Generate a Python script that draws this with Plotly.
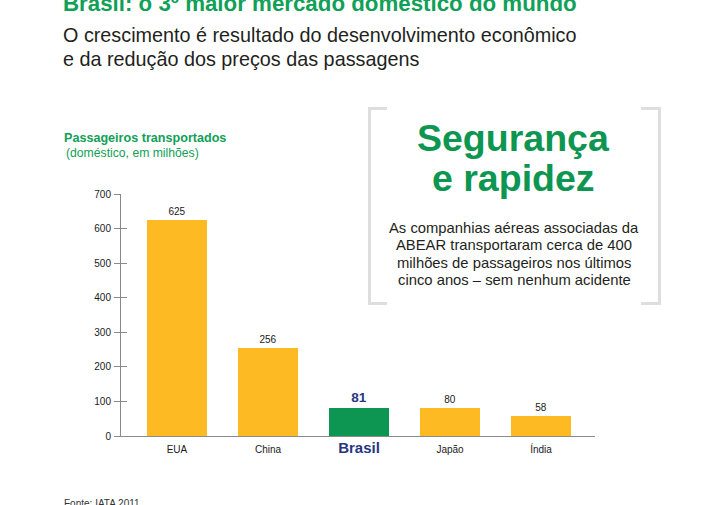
import plotly.graph_objects as go

categories = ["EUA", "China", "Brasil", "Japão", "Índia"]
values = [625, 256, 81, 80, 58]
highlight = "Brasil"
y_ticks = [0, 100, 200, 300, 400, 500, 600, 700]

YELLOW = "#FDBA22"
GREEN = "#0D9651"
NAVY = "#283581"
TITLE_GREEN = "#10A057"
FONT = "Liberation Sans, Arial, Helvetica, sans-serif"

W, H = 722, 505
L, R, T, B = 121, 595, 194, 436  # plot area in pixels


def px_x(px):
    return (px - L) / (R - L)


def px_y(py):
    return (B - py) / (B - T)


xpos = list(range(len(categories)))
colors = [GREEN if c == highlight else YELLOW for c in categories]
texts = [f"<b>{v}</b>" if c == highlight else str(v) for c, v in zip(categories, values)]
text_sizes = [13.5 if c == highlight else 10 for c in categories]
text_colors = [NAVY if c == highlight else "#1a1a1a" for c in categories]
ticktext = [
    f"<b><span style='color:{NAVY};font-size:15px'>{c}</span></b>" if c == highlight else c
    for c in categories
]

fig = go.Figure()
fig.add_trace(go.Bar(
    x=xpos, y=values, width=0.66,
    marker=dict(color=colors, line=dict(width=0)),
    text=texts, textposition="outside",
    outsidetextfont=dict(size=text_sizes, color=text_colors, family=FONT),
    cliponaxis=False, hoverinfo="skip",
))
# invisible trace to carry the inside half of crossing ticks
fig.add_trace(go.Scatter(x=[0], y=[0], yaxis="y2", mode="markers",
                         marker=dict(opacity=0), hoverinfo="skip", showlegend=False))

fig.update_layout(
    width=W, height=H,
    margin=dict(l=L, r=W - R, t=T, b=H - B),
    paper_bgcolor="white", plot_bgcolor="white",
    showlegend=False,
    font=dict(family=FONT, size=10, color="#1a1a1a"),
    bargap=0,
    xaxis=dict(
        range=[-0.615, 4.593], tickvals=xpos, ticktext=ticktext,
        showgrid=False, zeroline=False, showline=True, linecolor="#8a8a8a", linewidth=1,
        ticks="", tickfont=dict(size=10, color="#1a1a1a"), ticklabelstandoff=4,
        fixedrange=True,
    ),
    yaxis=dict(
        range=[0, 700], tickvals=y_ticks, showgrid=False, zeroline=False,
        showline=True, linecolor="#8a8a8a", linewidth=1,
        ticks="outside", ticklen=6, tickcolor="#8a8a8a", tickwidth=1,
        tickfont=dict(size=10, color="#1a1a1a"), ticklabelstandoff=1, fixedrange=True,
    ),
    yaxis2=dict(
        range=[0, 700], tickvals=y_ticks, overlaying="y", side="left",
        showgrid=False, zeroline=False, showline=False,
        ticks="inside", ticklen=6, tickcolor="#8a8a8a", tickwidth=1,
        showticklabels=False, fixedrange=True,
    ),
)

ann = []
def add_text(text, px, py, size, color, xanchor="left", bold=False):
    ann.append(dict(
        text=f"<b>{text}</b>" if bold else text,
        x=px_x(px), y=px_y(py), xref="paper", yref="paper",
        xanchor=xanchor, yanchor="middle", showarrow=False,
        font=dict(size=size, color=color, family=FONT), align=xanchor if xanchor != "center" else "center",
    ))

add_text("Brasil: o 3º maior mercado doméstico do mundo", 61, 3, 22.3, TITLE_GREEN, bold=True)
add_text("O crescimento é resultado do desenvolvimento econômico", 61, 35, 19.8, "#231f20")
add_text("e da redução dos preços das passagens", 61, 59, 19.8, "#231f20")
add_text("Passageiros transportados", 62, 138, 12.6, TITLE_GREEN, bold=True)
add_text("(doméstico, em milhões)", 64, 153, 12.2, TITLE_GREEN)
add_text("Segurança", 513, 138, 37.5, GREEN, xanchor="center", bold=True)
add_text("e rapidez", 513, 178, 37.5, GREEN, xanchor="center", bold=True)
para = ["As companhias aéreas associadas da",
        "ABEAR transportaram cerca de 400",
        "milhões de passageiros nos últimos",
        "cinco anos – sem nenhum acidente"]
for i, line in enumerate(para):
    add_text(line, 514, 228 + i * 17.4, 14.8, "#231f20", xanchor="center")
add_text("Fonte: IATA 2011", 62, 503, 10, "#333333")
fig.update_layout(annotations=ann)

# bracket frame around the side box
BR = "#dedede"
shapes = []
def line(x0, y0, x1, y1):
    shapes.append(dict(type="line", xref="paper", yref="paper",
                       x0=px_x(x0), y0=px_y(y0), x1=px_x(x1), y1=px_y(y1),
                       line=dict(color=BR, width=3)))
line(369.5, 107, 369.5, 305)
line(368, 108.5, 387, 108.5)
line(368, 303.5, 387, 303.5)
line(659.5, 107, 659.5, 305)
line(641, 108.5, 661, 108.5)
line(641, 303.5, 661, 303.5)
fig.update_layout(shapes=shapes)

fig.write_html("out.html")
